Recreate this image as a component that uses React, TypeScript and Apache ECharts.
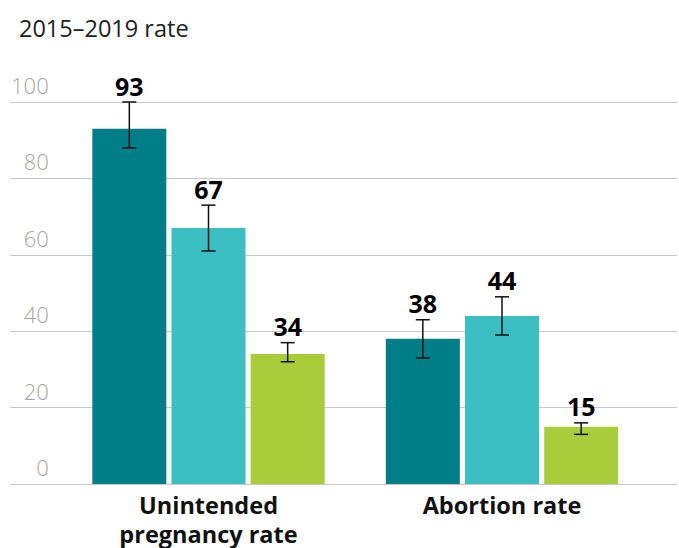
import React, { useEffect, useRef } from "react";
import * as echarts from "echarts";

const categories = ["Unintended\npregnancy rate", "Abortion rate"];
const seriesNames = ["A", "B", "C"];
const seriesValues = [
  [93, 38],
  [67, 44],
  [34, 15],
];
const errorLow = [
  [88, 33],
  [61, 39],
  [32, 13],
];
const errorHigh = [
  [100, 43],
  [73, 49],
  [37, 16],
];
const colors = ["#007E88", "#3BBFC3", "#A9CD3A"];
const yTicks = [0, 20, 40, 60, 80, 100];

const BAR_W = 74;
const BAR_GAP = 0.07;
const FONT = "'Open Sans', 'DejaVu Sans', sans-serif";

export default function App() {
  const ref = useRef<HTMLDivElement>(null);
  useEffect(() => {
    document.body.style.margin = "0";
    const chart = echarts.init(ref.current!, null, { renderer: "svg" });
    const gridTop = 102;
    const gridBottom = 64;
    const yMin = yTicks[0];
    const yMax = yTicks[yTicks.length - 1];
    const yInterval = yTicks[1] - yTicks[0];

    const barSeries = seriesNames.map((n, s) => ({
      name: n,
      type: "bar",
      xAxisIndex: 1,
      yAxisIndex: 1,
      barWidth: BAR_W,
      barGap: BAR_GAP * 100 + "%",
      data: seriesValues[s],
      itemStyle: { color: colors[s] },
      silent: true,
    }));

    const errSeries = seriesNames.map((n, s) => ({
      name: n + "-err",
      type: "custom",
      xAxisIndex: 1,
      yAxisIndex: 1,
      z: 10,
      data: seriesValues[s].map((v, i) => [i, errorLow[s][i], errorHigh[s][i], v]),
      renderItem: (params: any, api: any) => {
        const cat = api.value(0);
        const lo = api.value(1);
        const hi = api.value(2);
        const val = api.value(3);
        const off = (s - 1) * BAR_W * (1 + BAR_GAP);
        const x = api.coord([cat, 0])[0] + off;
        const yLo = api.coord([cat, lo])[1];
        const yHi = api.coord([cat, hi])[1];
        const cap = 7;
        const ls = { stroke: "#111", lineWidth: 1.5 };
        return {
          type: "group",
          children: [
            { type: "line", shape: { x1: x, y1: yLo, x2: x, y2: yHi }, style: ls },
            { type: "line", shape: { x1: x - cap, y1: yLo, x2: x + cap, y2: yLo }, style: ls },
            { type: "line", shape: { x1: x - cap, y1: yHi, x2: x + cap, y2: yHi }, style: ls },
            {
              type: "text",
              x: x,
              y: yHi - 4,
              style: {
                text: String(val),
                fill: "#000",
                font: `700 25px ${FONT}`,
                textAlign: "center",
                textVerticalAlign: "bottom",
              },
            },
          ],
        };
      },
    }));

    chart.setOption({
      animation: false,
      title: {
        text: "2015–2019 rate",
        left: 14,
        top: 11,
        textStyle: { fontFamily: FONT, fontSize: 23.5, fontWeight: 400, color: "#222" },
      },
      grid: [
        { left: 10, right: 2, top: gridTop, bottom: gridBottom },
        { left: 61.75, right: 30.25, top: gridTop, bottom: gridBottom },
      ],
      xAxis: [
        { gridIndex: 0, type: "value", show: false, min: 0, max: 1 },
        {
          gridIndex: 1,
          type: "category",
          data: categories,
          axisLine: { show: false },
          axisTick: { show: false },
          axisLabel: {
            margin: 6,
            fontFamily: FONT,
            fontSize: 23.5,
            fontWeight: 700,
            color: "#111",
            lineHeight: 29,
          },
        },
      ],
      yAxis: [
        {
          gridIndex: 0,
          type: "value",
          min: yMin,
          max: yMax,
          interval: yInterval,
          axisLine: { show: false },
          axisTick: { show: false },
          axisLabel: { show: false },
          splitLine: { lineStyle: { color: "#c8c8c8", width: 1.2 } },
        },
        {
          gridIndex: 1,
          type: "value",
          min: yMin,
          max: yMax,
          interval: yInterval,
          axisLine: { show: false },
          axisTick: { show: false },
          splitLine: { show: false },
          axisLabel: {
            margin: 13,
            fontFamily: FONT,
            fontSize: 22,
            fontWeight: 300,
            color: "#a6a6a6",
            verticalAlign: "bottom",
            padding: [0, 0, 6, 0],
          },
        },
      ],
      series: [...barSeries, ...errSeries],
    });
    return () => chart.dispose();
  }, []);
  return <div ref={ref} style={{ width: 679, height: 548 }} />;
}
